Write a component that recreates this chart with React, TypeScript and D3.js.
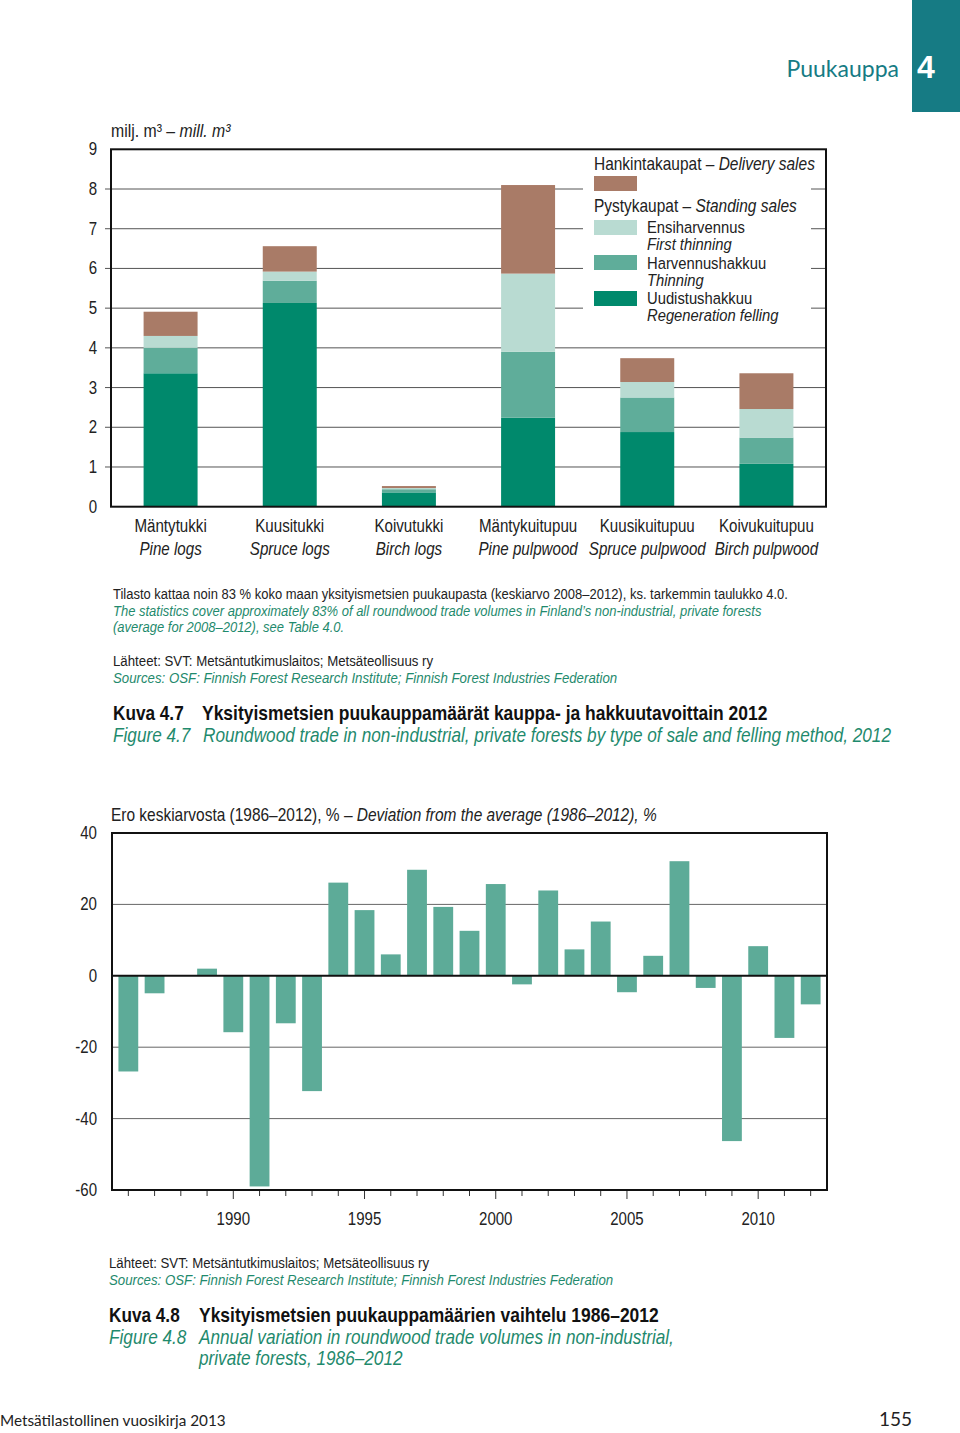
import * as d3 from "d3";
import React from "react";

// --- Figure 4.7: roundwood trade by type of sale and felling method, 2012 (mill. m3)
const categoriesFi = ["Mäntytukki", "Kuusitukki", "Koivutukki", "Mäntykuitupuu", "Kuusikuitupuu", "Koivukuitupuu"];
const categoriesEn = ["Pine logs", "Spruce logs", "Birch logs", "Pine pulpwood", "Spruce pulpwood", "Birch pulpwood"];
const regeneration = [3.36, 5.13, 0.36, 2.24, 1.88, 1.08];
const thinning = [0.64, 0.56, 0.08, 1.66, 0.87, 0.66];
const firstThinning = [0.3, 0.23, 0.03, 1.97, 0.39, 0.72];
const delivery = [0.61, 0.64, 0.05, 2.23, 0.6, 0.9];
const topTicks = [0, 1, 2, 3, 4, 5, 6, 7, 8, 9];

// --- Figure 4.8: deviation from the 1986–2012 average, %
const years = d3.range(1986, 2013);
const deviation = [
	-26.8, -4.9, 0, 2.0, -15.8, -59.0, -13.3, -32.3, 26.1, 18.4, 6.0, 29.7, 19.3, 12.6, 25.7, -2.4, 23.9, 7.4,
	15.2, -4.6, 5.6, 32.1, -3.4, -46.3, 8.3, -17.4, -8.0,
];
const bottomTicks = [40, 20, 0, -20, -40, -60];
const yearLabels = [1990, 1995, 2000, 2005, 2010];

const keys = ["regen", "thin", "first", "delivery"];
const colors: Record<string, string> = {
	regen: "#00896c",
	thin: "#5fad9a",
	first: "#b9dbd2",
	delivery: "#a97b67",
};
const green = "#1f8a6d";
const teal = "#167b84";
const sans = "'Liberation Sans', Arial, sans-serif";
const humanist = "Lato, 'Open Sans', sans-serif";
const SQUEEZE = 0.86; // no condensed face installed, so squeeze Liberation Sans horizontally

// condensed text helper
const T: React.FC<any> = ({ x, y, children, ...rest }) => (
	<text transform={`translate(${x},${y}) scale(${SQUEEZE},1)`} {...rest}>
		{children}
	</text>
);

const App: React.FC = () => {
	const rows = categoriesFi.map((c, i) => ({
		cat: c,
		regen: regeneration[i],
		thin: thinning[i],
		first: firstThinning[i],
		delivery: delivery[i],
	}));
	const series = d3.stack<any>().keys(keys)(rows);

	const x1 = d3.scaleBand<string>().domain(categoriesFi).range([111, 826]).paddingInner(0.547).paddingOuter(0.2735);
	const y1 = d3.scaleLinear().domain([0, 9]).range([506.7, 149.3]);

	const x2 = d3.scaleBand<number>().domain(years).range([112, 827]).padding(0.245);
	const y2 = d3.scaleLinear().domain([-60, 40]).range([1190, 833]);

	return (
		<svg
			width={960}
			height={1433}
			style={{ position: "absolute", left: 0, top: 0, background: "#fff" }}
			fontFamily={sans}
		>
			{/* page header */}
			<text x={899} y={77} textAnchor="end" fontFamily={humanist} fontSize={23} fill={teal}>
				Puukauppa
			</text>
			<rect x={912} y={0} width={48} height={112} fill={teal} />
			<text x={926} y={78} textAnchor="middle" fontWeight="bold" fontSize={32} fill="#fff">
				4
			</text>

			{/* ---------- top chart ---------- */}
			<T x={111} y={137} fontSize={18.4} fill="#222">
				milj. m³ – <tspan fontStyle="italic">mill. m³</tspan>
			</T>
			{topTicks.map((t) => (
				<g key={t}>
					{t > 0 && t < 9 && <line x1={105} x2={826} y1={y1(t)} y2={y1(t)} stroke="#555" strokeWidth={1} />}
					<T x={97} y={y1(t) + 6} textAnchor="end" fontSize={17.5} fill="#222">
						{t}
					</T>
				</g>
			))}
			{/* legend background hides grid */}
			<rect x={583} y={151} width={228} height={179} fill="#fff" />
			{series.map((s) => (
				<g key={s.key} fill={colors[s.key]}>
					{s.map((d: any, i: number) => (
						<rect
							key={i}
							x={x1(categoriesFi[i])}
							width={x1.bandwidth()}
							y={y1(d[1])}
							height={y1(d[0]) - y1(d[1])}
						/>
					))}
				</g>
			))}
			<rect x={111} y={149.3} width={715} height={357.4} fill="none" stroke="#111" strokeWidth={2} />
			{categoriesFi.map((c, i) => (
				<g key={c} fontSize={17.6} textAnchor="middle" fill="#222">
					<T x={(x1(c) as number) + x1.bandwidth() / 2} y={532}>
						{c}
					</T>
					<T x={(x1(c) as number) + x1.bandwidth() / 2} y={555} fontStyle="italic">
						{categoriesEn[i]}
					</T>
				</g>
			))}
			{/* legend */}
			<g fontSize={18} fill="#222">
				<T x={594} y={170}>
					Hankintakaupat – <tspan fontStyle="italic">Delivery sales</tspan>
				</T>
				<rect x={594} y={176} width={43} height={15} fill={colors.delivery} />
				<T x={594} y={212}>
					Pystykaupat – <tspan fontStyle="italic">Standing sales</tspan>
				</T>
			</g>
			<g fontSize={17.2} fill="#222">
				<rect x={594} y={220} width={43} height={15} fill={colors.first} />
				<T x={647} y={233}>Ensiharvennus</T>
				<T x={647} y={250} fontStyle="italic">First thinning</T>
				<rect x={594} y={255} width={43} height={15} fill={colors.thin} />
				<T x={647} y={268.5}>Harvennushakkuu</T>
				<T x={647} y={285.5} fontStyle="italic">Thinning</T>
				<rect x={594} y={291} width={43} height={15} fill={colors.regen} />
				<T x={647} y={304}>Uudistushakkuu</T>
				<T x={647} y={321} fontStyle="italic">Regeneration felling</T>
			</g>

			{/* notes */}
			<g fontSize={15.1}>
				<T x={113} y={599} fill="#222">
					Tilasto kattaa noin 83 % koko maan yksityismetsien puukaupasta (keskiarvo 2008–2012), ks. tarkemmin taulukko 4.0.
				</T>
				<T x={113} y={616} fill={green} fontStyle="italic">
					The statistics cover approximately 83% of all roundwood trade volumes in Finland’s non-industrial, private forests
				</T>
				<T x={113} y={632} fill={green} fontStyle="italic">
					(average for 2008–2012), see Table 4.0.
				</T>
			</g>
			<g fontSize={15.4}>
				<T x={113} y={666} fill="#222">
					Lähteet: SVT: Metsäntutkimuslaitos; Metsäteollisuus ry
				</T>
				<T x={113} y={683} fill={green} fontStyle="italic">
					Sources: OSF: Finnish Forest Research Institute; Finnish Forest Industries Federation
				</T>
			</g>
			<g fontSize={20}>
				<T x={113} y={720} fontWeight="bold" fill="#111">Kuva 4.7</T>
				<T x={202} y={720} fontWeight="bold" fontSize={20.3} fill="#111">
					Yksityismetsien puukauppamäärät kauppa- ja hakkuutavoittain 2012
				</T>
				<T x={113} y={742} fontStyle="italic" fill={green}>Figure 4.7</T>
				<T x={203} y={742} fontStyle="italic" fill={green}>
					Roundwood trade in non-industrial, private forests by type of sale and felling method, 2012
				</T>
			</g>

			{/* ---------- bottom chart ---------- */}
			<T x={111} y={821} fontSize={18} fill="#222">
				Ero keskiarvosta (1986–2012), % – <tspan fontStyle="italic">Deviation from the average (1986–2012), %</tspan>
			</T>
			{bottomTicks.map((t) => (
				<g key={t}>
					{t !== 40 && t !== -60 && t !== 0 && (
						<line x1={112} x2={827} y1={y2(t)} y2={y2(t)} stroke="#666" strokeWidth={1} />
					)}
					<T x={97} y={y2(t) + 6} textAnchor="end" fontSize={17.5} fill="#222">
						{t}
					</T>
				</g>
			))}
			{years.map((yr, i) => {
				const v = deviation[i];
				return (
					<rect
						key={yr}
						x={x2(yr)}
						width={x2.bandwidth()}
						y={y2(Math.max(0, v))}
						height={Math.abs(y2(v) - y2(0))}
						fill="#5dab98"
					/>
				);
			})}
			<line x1={112} x2={827} y1={y2(0)} y2={y2(0)} stroke="#111" strokeWidth={2} />
			<rect x={112} y={833} width={715} height={357} fill="none" stroke="#111" strokeWidth={2} />
			{years.map((yr) => {
				const cx = (x2(yr) as number) + x2.bandwidth() / 2;
				return (
					<line
						key={yr}
						x1={cx}
						x2={cx}
						y1={1191}
						y2={yr % 5 === 0 ? 1199 : 1196}
						stroke="#333"
						strokeWidth={1}
					/>
				);
			})}
			{yearLabels.map((yr) => (
				<T
					key={yr}
					x={(x2(yr) as number) + x2.bandwidth() / 2}
					y={1225}
					textAnchor="middle"
					fontSize={17.5}
					fill="#222"
				>
					{yr}
				</T>
			))}
			<g fontSize={15.4}>
				<T x={109} y={1268} fill="#222">
					Lähteet: SVT: Metsäntutkimuslaitos; Metsäteollisuus ry
				</T>
				<T x={109} y={1285} fill={green} fontStyle="italic">
					Sources: OSF: Finnish Forest Research Institute; Finnish Forest Industries Federation
				</T>
			</g>
			<g fontSize={20}>
				<T x={109} y={1322} fontWeight="bold" fill="#111">Kuva 4.8</T>
				<T x={199} y={1322} fontWeight="bold" fontSize={20.3} fill="#111">
					Yksityismetsien puukauppamäärien vaihtelu 1986–2012
				</T>
				<T x={109} y={1344} fontStyle="italic" fill={green}>Figure 4.8</T>
				<T x={199} y={1344} fontStyle="italic" fill={green}>
					Annual variation in roundwood trade volumes in non-industrial,
				</T>
				<T x={199} y={1365} fontStyle="italic" fill={green}>
					private forests, 1986–2012
				</T>
			</g>

			{/* footer */}
			<text x={0} y={1426} fontFamily={humanist} fontSize={15.3} fill="#222">
				Metsätilastollinen vuosikirja 2013
			</text>
			<text x={912} y={1426} textAnchor="end" fontFamily={humanist} fontSize={19} fill="#222">
				155
			</text>
		</svg>
	);
};

export default App;
